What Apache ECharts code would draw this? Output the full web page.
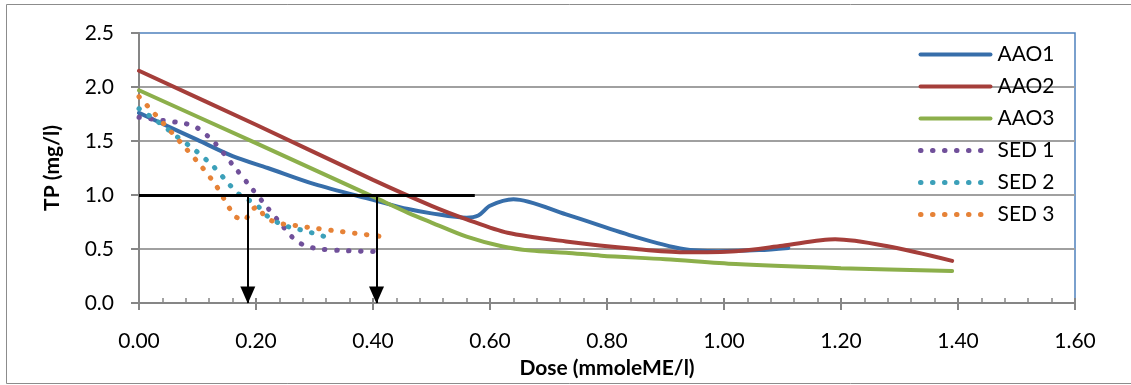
<!DOCTYPE html>
<html>
<head>
<meta charset="utf-8">
<script src="https://cdn.jsdelivr.net/npm/echarts@6/dist/echarts.min.js"></script>
<style>
  html, body { margin: 0; padding: 0; background: #fff; }
  #chart { width: 1131px; height: 385px; }
</style>
</head>
<body>
<div id="chart"></div>
<script>
// [dose, TP] pairs
const aao1 = [[0, 1.76], [0.04, 1.66], [0.1, 1.51], [0.16, 1.36], [0.22, 1.25], [0.3, 1.1], [0.4, 0.955], [0.46, 0.87], [0.5, 0.83], [0.56, 0.79], [0.58, 0.81], [0.6, 0.9], [0.64, 0.96], [0.73, 0.82], [0.85, 0.61], [0.93, 0.5], [0.99, 0.48], [1.06, 0.49], [1.11, 0.51]];
const aao2 = [[0, 2.15], [0.2, 1.65], [0.4, 1.14], [0.5, 0.9], [0.56, 0.775], [0.63, 0.65], [0.73, 0.57], [0.85, 0.5], [0.93, 0.47], [1.02, 0.48], [1.1, 0.53], [1.19, 0.59], [1.28, 0.525], [1.39, 0.39]];
const aao3 = [[0, 1.97], [0.2, 1.48], [0.4, 0.985], [0.46, 0.835], [0.5, 0.745], [0.56, 0.614], [0.62, 0.525], [0.67, 0.485], [0.73, 0.466], [0.79, 0.438], [0.9, 0.405], [1.02, 0.36], [1.2, 0.322], [1.39, 0.296]];
const sed1 = [[0, 1.72], [0.04, 1.69], [0.08, 1.66], [0.1, 1.62], [0.13, 1.48], [0.16, 1.28], [0.19, 1.08], [0.22, 0.88], [0.245, 0.716], [0.26, 0.62], [0.275, 0.555], [0.29, 0.52], [0.31, 0.5], [0.35, 0.485], [0.41, 0.476]];
const sed2 = [[0, 1.8], [0.032, 1.68], [0.065, 1.54], [0.097, 1.41], [0.128, 1.26], [0.154, 1.1], [0.168, 1.02], [0.185, 0.96], [0.2, 0.915], [0.215, 0.825], [0.231, 0.762], [0.25, 0.715], [0.27, 0.686], [0.29, 0.658], [0.31, 0.628], [0.33, 0.59]];
const sed3 = [[0, 1.91], [0.027, 1.75], [0.054, 1.59], [0.082, 1.42], [0.108, 1.256], [0.133, 1.077], [0.153, 0.892], [0.165, 0.8], [0.18, 0.765], [0.191, 0.855], [0.203, 0.89], [0.215, 0.8], [0.231, 0.753], [0.25, 0.728], [0.27, 0.716], [0.29, 0.7], [0.33, 0.672], [0.37, 0.645], [0.413, 0.617]];

// guide lines: TP target and the doses where it is reached
const targetTP = 1.0;
const targetLineEnd = 0.574;
const arrowDoses = [0.186, 0.406];

const seriesNames = ["AAO1", "AAO2", "AAO3", "SED 1", "SED 2", "SED 3"];
const seriesData = [aao1, aao2, aao3, sed1, sed2, sed3];
const colors = ["#376eaa", "#a53e3a", "#8caf4b", "#70509a", "#3ca0b9", "#e68237"];
const dotted = [false, false, false, true, true, true];

const FONT = "Lato";

const chart = echarts.init(document.getElementById("chart"));

const series = seriesNames.map((name, i) => ({
  name: name,
  type: "line",
  data: seriesData[i],
  smooth: 0.3,
  symbol: "none",
  z: dotted[i] ? 4 : 3,
  itemStyle: { color: colors[i] },
  lineStyle: dotted[i]
    ? { color: colors[i], width: 5, type: [0.5, 11.5], cap: "round" }
    : { color: colors[i], width: 4, cap: "round" },
}));

// black guide lines drawn through markLine on an empty series
series.push({
  name: "guide",
  type: "line",
  data: [],
  z: 5,
  markLine: {
    silent: true,
    animation: false,
    label: { show: false },
    emphasis: { disabled: true },
    data: [
      [
        { coord: [0, targetTP], symbol: "none", lineStyle: { width: 3 } },
        { coord: [targetLineEnd, targetTP], symbol: "none" },
      ],
      ...arrowDoses.map((d) => [
        { coord: [d, targetTP], symbol: "none" },
        { coord: [d, 0], symbol: "triangle", symbolSize: [15, 17], symbolOffset: [0, 8] },
      ]),
    ],
    lineStyle: { color: "#000", width: 2, type: "solid" },
    symbol: ["none", "triangle"],
  },
});

const option = {
  backgroundColor: "#fff",
  animation: false,
  textStyle: { fontFamily: FONT },
  graphic: [
    {
      type: "rect",
      shape: { x: 6.5, y: 4.5, width: 1140, height: 379 },
      style: { fill: "none", stroke: "#8c8c8c", lineWidth: 1 },
      silent: true,
    },
  ],
  legend: {
    data: seriesNames,
    orient: "vertical",
    left: 913,
    top: 39,
    itemWidth: 70,
    itemHeight: 14,
    itemGap: 11,
    itemStyle: { opacity: 0 },
    lineStyle: { width: "inherit", type: "inherit", cap: "round" },
    textStyle: { fontFamily: FONT, fontSize: 21, color: "#000", padding: [0, 0, 0, 2] },
  },
  grid: {
    left: 139,
    right: 56,
    top: 33,
    bottom: 82,
    show: true,
    borderColor: "#4f81bd",
    borderWidth: 1.5,
    backgroundColor: "transparent",
  },
  xAxis: [
    {
      type: "value",
      min: 0,
      max: 1.6,
      interval: 0.2,
      name: "Dose (mmoleME/l)",
      nameLocation: "middle",
      nameGap: 55,
      nameTextStyle: { fontFamily: FONT, fontSize: 21, fontWeight: "bold", color: "#000" },
      axisLine: { show: true, lineStyle: { color: "#868686", width: 2 } },
      axisTick: { show: true, length: 7, lineStyle: { color: "#868686", width: 2 } },
      axisLabel: {
        margin: 28,
        fontFamily: FONT,
        fontSize: 21,
        color: "#000",
        formatter: (v) => v.toFixed(2),
      },
      splitLine: { show: false },
    },
    {
      // inner half of the major ticks plus minor ticks
      type: "value",
      position: "bottom",
      min: 0,
      max: 1.6,
      interval: 0.2,
      axisLine: { show: false },
      axisLabel: { show: false },
      axisTick: { show: true, inside: true, length: 5, lineStyle: { color: "#868686", width: 2 } },
      minorTick: { show: true, splitNumber: 5, length: 5, lineStyle: { color: "#868686", width: 1.5 } },
      splitLine: { show: false },
    },
  ],
  yAxis: {
    type: "value",
    min: 0,
    max: 2.5,
    interval: 0.5,
    name: "TP (mg/l)",
    nameLocation: "middle",
    nameGap: 76,
    nameTextStyle: { fontFamily: FONT, fontSize: 21, fontWeight: "bold", color: "#000" },
    axisLine: { show: true, lineStyle: { color: "#868686", width: 2 } },
    axisTick: { show: true, length: 8, lineStyle: { color: "#868686", width: 2 } },
    axisLabel: {
      margin: 25,
      fontFamily: FONT,
      fontSize: 21,
      color: "#000",
      formatter: (v) => v.toFixed(1),
    },
    splitLine: { show: true, showMaxLine: false, lineStyle: { color: "#a0a0a0", width: 2 } },
  },
  series: series,
};

chart.setOption(option);
</script>
</body>
</html>
